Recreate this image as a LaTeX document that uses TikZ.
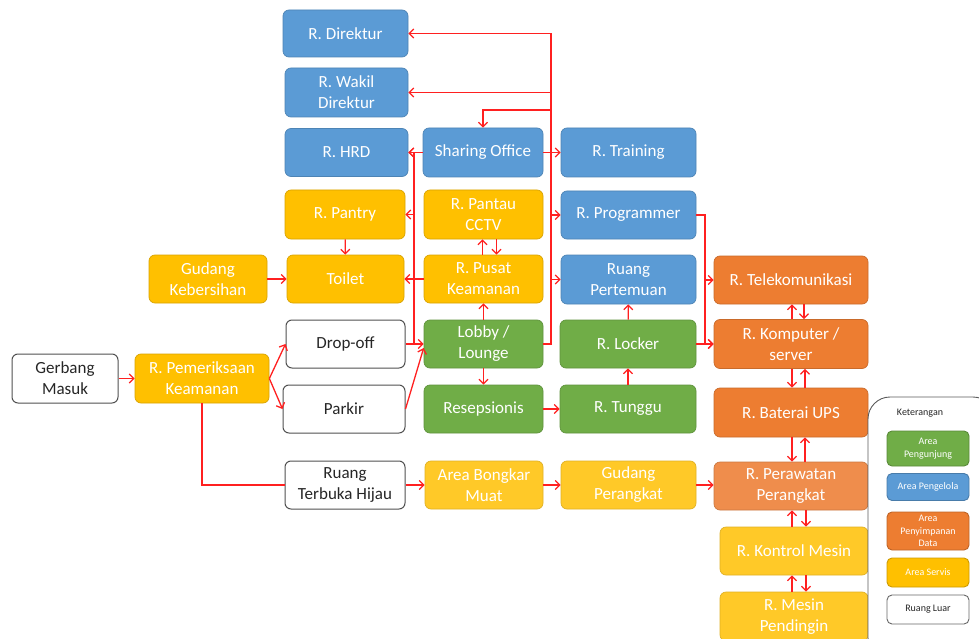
\documentclass[tikz,border=0pt]{standalone}
\usepackage{fontspec}
\setmainfont{Carlito}
\usetikzlibrary{arrows.meta,calc}
\definecolor{cblue}{HTML}{5B9BD5}
\definecolor{cgreen}{HTML}{70AD47}
\definecolor{corange}{HTML}{ED7D31}
\definecolor{cgold}{HTML}{FFC000}
\definecolor{cgoldl}{HTML}{FFC928}
\definecolor{corangel}{HTML}{EF8D4C}
\definecolor{cred}{HTML}{FF2020}
\definecolor{ctext}{HTML}{262626}
\tikzset{
  roombox/.style={rounded corners=6pt, minimum height=48pt, inner sep=0pt, align=center,
    font=\fontsize{17}{21}\selectfont, text=white, line width=0.7pt},
  bluebox/.style={roombox, fill=cblue, draw=cblue!85!black},
  greenbox/.style={roombox, fill=cgreen, draw=cgreen!85!black},
  orangebox/.style={roombox, fill=corange, draw=corange!85!black},
  orangelbox/.style={roombox, fill=corangel, draw=corangel!85!black},
  goldbox/.style={roombox, fill=cgold, draw=cgold!85!black},
  goldlbox/.style={roombox, fill=cgoldl, draw=cgoldl!88!black},
  whitebox/.style={roombox, fill=white, draw=ctext!80, text=ctext, line width=1pt},
  legitem/.style={rounded corners=5pt, minimum width=82pt, inner sep=0pt, align=center,
    font=\fontsize{10}{12.5}\selectfont, text=white, line width=0.9pt},
  arr/.style={draw=cred, line width=1.3pt, -{Straight Barb[length=4.5pt,width=9pt]}},
  ln/.style={draw=cred, line width=1.3pt},
}
\begin{document}
\begin{tikzpicture}[x=1pt,y=-1pt]
\useasboundingbox (0,0) rectangle (979,639);
\clip (0,0) rectangle (979,639);
\fill[white] (0,0) rectangle (979,639);

% column A
\node[bluebox, minimum width=125pt, minimum height=47pt] (dir) at (345.5,33.5) {R. Direktur};
\node[bluebox, minimum width=123pt, minimum height=49pt] (wakil) at (346.5,92.5) {R. Wakil\\Direktur};
\node[bluebox, minimum width=123pt] (hrd) at (346.5,152.5) {R. HRD};
\node[goldbox, minimum width=120pt, minimum height=49pt] (pantry) at (345,214.5) {R. Pantry};
\node[goldbox, minimum width=117pt] (toilet) at (345.5,279) {Toilet};
\node[whitebox, minimum width=119pt] (dropoff) at (345.5,344) {Drop-off};
\node[whitebox, minimum width=122pt] (parkir) at (344,409) {Parkir};
\node[whitebox, minimum width=120pt] (rth) at (345,485) {Ruang\\Terbuka Hijau};

% column B
\node[bluebox, minimum width=120pt, minimum height=49pt] (sharing) at (483,152.5) {Sharing Office};
\node[goldbox, minimum width=119pt, minimum height=49pt] (cctv) at (483.5,214.5) {R. Pantau\\CCTV};
\node[goldbox, minimum width=119pt] (pusat) at (483.5,279) {R. Pusat\\Keamanan};
\node[greenbox, minimum width=119pt] (lobby) at (483.5,344) {Lobby /\\Lounge};
\node[greenbox, minimum width=119pt] (resep) at (483.5,409) {Resepsionis};
\node[goldlbox, minimum width=118pt] (bongkar) at (484,485) {Area Bongkar\\Muat};

% column C
\node[bluebox, minimum width=135pt, minimum height=49pt] (training) at (628.5,152.5) {R. Training};
\node[bluebox, minimum width=135pt] (programmer) at (628.5,215) {R. Programmer};
\node[bluebox, minimum width=135pt, minimum height=49pt] (pertemuan) at (628.5,279.5) {Ruang\\Pertemuan};
\node[greenbox, minimum width=136pt] (locker) at (628,344) {R. Locker};
\node[greenbox, minimum width=136pt] (tunggu) at (628,409) {R. Tunggu};
\node[goldlbox, minimum width=135pt] (gudangp) at (628.5,485) {Gudang\\Perangkat};

% column D
\node[orangebox, minimum width=154pt] (telekom) at (791,280) {R. Telekomunikasi};
\node[orangebox, minimum width=154pt, minimum height=49pt] (komputer) at (791,344) {R. Komputer /\\server};
\node[orangebox, minimum width=154pt, minimum height=49pt] (ups) at (791,412.5) {R. Baterai UPS};
\node[orangelbox, minimum width=154pt] (perawatan) at (791,486) {R. Perawatan\\Perangkat};
\node[goldlbox, minimum width=148pt] (kontrol) at (794,551) {R. Kontrol Mesin};
\node[goldlbox, minimum width=148pt, minimum height=49pt] (pendingin) at (794,616.5) {R. Mesin\\Pendingin};

% left part
\node[whitebox, minimum width=106pt, minimum height=49pt] (gerbang) at (65,378.5) {Gerbang\\Masuk};
\node[goldbox, minimum width=134pt, minimum height=49pt] (pemeriksaan) at (202,378.5) {R. Pemeriksaan\\Keamanan};
\node[goldbox, minimum width=118pt] (gudangk) at (208,279) {Gudang\\Kebersihan};

% connectors: entrance
\draw[arr] (gerbang) -- (pemeriksaan);
\draw[arr] (pemeriksaan.east) -- (dropoff.west);
\draw[arr] (pemeriksaan.east) -- (parkir.west);
\draw[arr] (dropoff) -- (lobby);
\draw[arr] (parkir.east) -- ([yshift=-4pt]lobby.west);
\draw[ln] (pemeriksaan.south) |- (rth.west);
\draw[arr] (rth) -- (bongkar);
\draw[arr] (bongkar) -- (gudangp);
\draw[arr] (gudangp.east) -- (perawatan.west |- gudangp.east);

% left trunk
\coordinate (ltb) at (414,344);
\draw[arr] (ltb) |- (hrd.east);
\draw[arr] (ltb |- pantry.east) -- (pantry.east);
\draw[arr] (sharing) -- (hrd);
\draw[arr] (pusat) -- (toilet);
\draw[arr] (gudangk) -- (toilet);
\draw[arr] (pantry) -- (toilet);

% middle column verticals
\draw[arr] ($(pusat.north)+(-1,0)$) -- ($(cctv.south)+(-1,0)$);
\draw[arr] ($(cctv.south)+(13,0)$) -- ($(pusat.north)+(13,0)$);
\draw[arr] (lobby) -- (pusat);
\draw[arr] (lobby) -- (resep);
\draw[arr] (resep) -- (tunggu);
\draw[arr] (tunggu) -- (locker);
\draw[arr] (locker) -- (pertemuan);

% right trunk
\coordinate (rtb) at (551,344);
\coordinate (sj) at (551,110);
\draw[arr] (lobby.east) -- (rtb) |- (dir.east);
\draw[arr] (rtb |- wakil.east) -- (wakil.east);
\draw[arr] (sj) -| (sharing.north);
\draw[arr] (rtb |- programmer.west) -- (programmer.west);
\draw[arr] (rtb |- pertemuan.west) -- (pertemuan.west);
\draw[arr] (sharing) -- (training);

% second trunk
\coordinate (rt2) at (705,344);
\draw[arr] (programmer.east) -| (rt2) -- (komputer.west);
\draw[arr] (rt2 |- telekom.west) -- (telekom.west);
\draw[arr] (locker) -- (komputer);

% right column pairs
\draw[arr] ($(komputer.north)+(1,0)$) -- ($(telekom.south)+(1,0)$);
\draw[arr] ($(telekom.south)+(13,0)$) -- ($(komputer.north)+(13,0)$);
\draw[arr] ($(komputer.south)+(1,0)$) -- ($(ups.north)+(1,0)$);
\draw[arr] ($(ups.north)+(14,0)$) -- ($(komputer.south)+(14,0)$);
\draw[arr] ($(ups.south)+(1,0)$) -- ($(perawatan.north)+(1,0)$);
\draw[arr] ($(perawatan.north)+(14,0)$) -- ($(ups.south)+(14,0)$);
\draw[arr] ($(kontrol.north)+(-2,0)$) -- ($(perawatan.south)+(1,0)$);
\draw[arr] ($(perawatan.south)+(15,0)$) -- ($(kontrol.north)+(12,0)$);
\draw[arr] ($(pendingin.north)+(-2,0)$) -- ($(kontrol.south)+(-2,0)$);
\draw[arr] ($(kontrol.south)+(12,0)$) -- ($(pendingin.north)+(12,0)$);

% legend
\draw[draw=ctext!75, line width=0.9pt, rounded corners=22pt, fill=white] (868,397) rectangle (995,660);
\node[font=\fontsize{10}{12}\selectfont, text=ctext] (keter) at (920,413) {Keterangan};
\node[legitem, fill=cgreen, draw=cgreen!80!black, minimum height=35pt] (lg1) at (928,448.5) {Area\\Pengunjung};
\node[legitem, fill=cblue, draw=cblue!80!black, minimum height=27pt] (lg2) at (928,487) {Area Pengelola};
\node[legitem, fill=corange, draw=corange!80!black, minimum height=38pt] (lg3) at (928,531) {Area\\Penyimpanan\\Data};
\node[legitem, fill=cgold, draw=cgold!80!black, minimum height=29pt] (lg4) at (928,572.5) {Area Servis};
\node[legitem, fill=white, draw=ctext!70, text=ctext, minimum height=29pt] (lg5) at (928,609.5) {Ruang Luar};
\end{tikzpicture}
\end{document}
